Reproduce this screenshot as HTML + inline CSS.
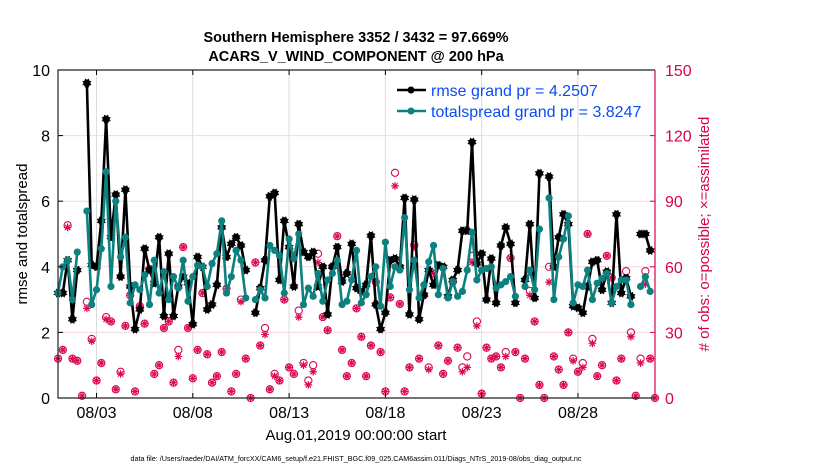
<!DOCTYPE html>
<html><head><meta charset="utf-8"><style>
body{margin:0;background:#fff;}
svg{display:block;font-family:"Liberation Sans",Arial,sans-serif;}
</style></head><body>
<svg id="chart" width="830" height="470" viewBox="0 0 830 470" xmlns="http://www.w3.org/2000/svg">
<g id="grid"></g>
<g id="obs"></g>
<g id="lines"></g>
<g id="axes"></g>
<text x="356" y="42" text-anchor="middle" font-size="14.5" font-weight="bold">Southern Hemisphere 3352 / 3432 = 97.669%</text>
<text x="356" y="61" text-anchor="middle" font-size="14.5" font-weight="bold">ACARS_V_WIND_COMPONENT @ 200 hPa</text>
<text transform="translate(27,234) rotate(-90)" text-anchor="middle" font-size="15">rmse and totalspread</text>
<text transform="translate(709,234) rotate(-90)" text-anchor="middle" font-size="15" fill="#d9024f"># of obs: o=possible; ×=assimilated</text>
<text x="356" y="440" text-anchor="middle" font-size="15">Aug.01,2019 00:00:00 start</text>
<text x="356" y="461" text-anchor="middle" font-size="7.2">data file: /Users/raeder/DAI/ATM_forcXX/CAM6_setup/f.e21.FHIST_BGC.f09_025.CAM6assim.011/Diags_NTrS_2019-08/obs_diag_output.nc</text>
<g>
<line x1="397" y1="90" x2="426" y2="90" stroke="#000" stroke-width="2.5"/>
<circle cx="411" cy="90" r="3.5" fill="#000"/>
<text x="431" y="96" font-size="16" fill="#0a4cf5">rmse grand pr = 4.2507</text>
<line x1="397" y1="111" x2="426" y2="111" stroke="#0d8080" stroke-width="2.5"/>
<circle cx="411" cy="111" r="3.5" fill="#0d8080"/>
<text x="431" y="117" font-size="16" fill="#0a4cf5">totalspread grand pr = 3.8247</text>
</g>
</svg>
<script>
const N = null;
const rmse = [3.2,3.2,4.2,2.4,3.9,N,9.6,4.05,4.0,5.4,8.5,4.9,6.2,3.7,6.35,3.4,2.1,2.7,4.55,3.9,3.5,4.9,2.5,4.4,2.5,3.4,3.7,3.5,2.25,4.3,4.0,2.7,
2.85,3.45,5.2,4.3,4.7,4.9,4.65,3.9,N,2.6,3.35,4.2,6.15,6.25,3.6,5.4,4.6,3.4,5.3,4.45,4.3,4.45,3.4,4.0,2.55,4.0,4.6,3.55,3.8,4.7,
3.35,3.25,3.45,4.95,2.85,2.1,2.6,4.2,4.25,4.0,6.1,2.55,6.05,2.4,3.15,3.9,3.45,4.05,4.0,3.1,3.6,3.9,5.1,5.1,7.8,4.1,4.4,3.0,4.25,2.9,4.65,5.2,
4.7,2.9,N,3.6,5.3,3.05,6.85,N,6.75,4.0,4.9,5.6,5.3,2.8,2.75,2.6,3.4,4.15,4.2,3.3,3.85,2.9,5.6,3.2,3.65,3.1,N,5.0,5.0,4.5];
const spread = [3.2,4.0,4.2,3.0,4.45,N,5.7,2.85,3.3,4.55,6.9,3.4,6.0,4.3,4.9,2.9,3.45,3.3,3.75,2.85,4.2,3.2,3.85,3.0,3.7,3.35,4.2,2.95,3.7,4.05,4.0,3.4,
4.1,4.4,5.4,3.2,3.7,4.5,4.2,3.05,N,3.0,3.3,3.05,4.65,4.5,4.35,3.2,4.85,4.25,5.0,2.85,3.35,3.1,3.8,2.95,3.6,3.8,4.2,2.85,2.95,3.6,
4.5,2.9,3.15,3.7,4.0,2.8,4.75,3.4,4.0,3.9,5.5,3.3,4.2,3.05,3.45,4.15,4.65,3.15,3.95,3.05,3.55,3.1,3.25,3.9,5.05,3.6,3.9,3.95,4.0,3.35,3.45,3.55,
3.7,3.1,N,3.4,3.9,3.3,5.15,N,6.1,3.0,4.3,4.85,5.55,2.9,3.45,3.4,3.9,3.0,3.5,3.65,3.8,2.9,3.4,3.6,3.6,2.85,N,3.4,3.7,3.25];
const possible = [18,22,79,18,17,1,44,27,8,16,37,35,4,12,33,47,3,42,34,59,11,15,32,35,7,22,69,32,9,22,48,20,
7,10,21,50,3,11,45,18,0,62,24,32,4,11,8,45,14,11,40,16,8,15,66,37,31,60,74,22,10,16,41,
28,10,24,53,21,3,46,103,43,3,14,70,18,47,14,57,24,11,17,53,23,14,19,65,35,2,23,18,19,14,21,
64,21,0,18,49,35,6,0,60,19,13,6,30,18,12,16,75,27,10,15,65,55,8,18,58,30,1,18,58,18,0];
const assimilated = [18,22,78,18,17,1,41,26,8,16,36,35,4,11,33,47,3,42,34,59,11,15,32,35,7,19,69,32,9,22,48,20,
7,10,21,50,3,11,44,18,0,62,24,29,4,10,8,45,14,11,37,15,6,12,62,37,31,60,74,22,10,16,41,
28,10,24,53,21,3,46,97,43,3,14,69,18,47,13,57,24,11,17,53,23,12,14,62,33,2,23,18,19,14,19,
64,21,0,18,47,35,6,0,53,19,13,6,30,17,12,14,75,25,10,15,65,55,8,18,55,28,1,16,52,18,0];
const xTickDays = [2,7,12,17,22,27];
const xTickLabels = ["08/03","08/08","08/13","08/18","08/23","08/28"];
const yTicks = [0,2,4,6,8,10];
const y2Ticks = [0,30,60,90,120,150];

const L=58,R=655,T=70,B=398, XMAX=31, STEP=0.25;
const xs = d => L + d/XMAX*(R-L);
const ys = v => B - v/10*(B-T);
const y2s = v => B - v/150*(B-T);
const NS="http://www.w3.org/2000/svg";
function mk(tag, parent, attrs){const e=document.createElementNS(NS,tag);for(const k in attrs)e.setAttribute(k,attrs[k]);parent.appendChild(e);return e;}
const grid=document.getElementById('grid'), axes=document.getElementById('axes'), obs=document.getElementById('obs'), lines=document.getElementById('lines');

yTicks.forEach(v=>{ if(v>0&&v<10){const g=mk('line',grid,{x1:L,x2:R,y1:ys(v),y2:ys(v),stroke:'#f0d8e2','stroke-width':1});

}
const t=mk('text',axes,{x:L-8,y:ys(v)+6,'text-anchor':'end','font-size':16});t.textContent=v;


mk('line',axes,{x1:L,x2:L+5,y1:ys(v),y2:ys(v),stroke:'#000'});});
y2Ticks.forEach(v=>{const t=mk('text',axes,{x:R+10,y:y2s(v)+6,'font-size':16,fill:'#d9024f'});t.textContent=v;


mk('line',axes,{x1:R-5,x2:R,y1:y2s(v),y2:y2s(v),stroke:'#d9024f'});});
xTickDays.forEach((d,i)=>{const g=mk('line',grid,{x1:xs(d),x2:xs(d),y1:T,y2:B,stroke:'#dcdcdc','stroke-width':1});


mk('line',axes,{x1:xs(d),x2:xs(d),y1:B,y2:B-5,stroke:'#000'});
mk('line',axes,{x1:xs(d),x2:xs(d),y1:T,y2:T+5,stroke:'#000'});
const t=mk('text',axes,{x:xs(d),y:B+20,'text-anchor':'middle','font-size':16});t.textContent=xTickLabels[i];

});
mk('path',axes,{d:`M${R},${T}H${L}V${B}H${R}`,fill:'none',stroke:'#222','stroke-width':1.2});
mk('line',axes,{x1:R,x2:R,y1:T,y2:B,stroke:'#d9024f','stroke-width':1.2});

const pink='#dc0a55';
function star(parent,cx,cy,r){let d='';for(let k=0;k<4;k++){const a=k*Math.PI/4;d+=`M${cx-r*Math.cos(a)},${cy-r*Math.sin(a)}L${cx+r*Math.cos(a)},${cy+r*Math.sin(a)}`;}
return mk('path',parent,{d:d,stroke:pink,'stroke-width':1.2,fill:'none'});}
possible.forEach((v,i)=>{if(v==null)return;const c=mk('circle',obs,{cx:xs(i*STEP),cy:y2s(v),r:3.6,fill:'none',stroke:pink,'stroke-width':1.1});

});
assimilated.forEach((v,i)=>{if(v==null)return;const s=star(obs,xs(i*STEP),y2s(v),3.8);

});

function series(arr,color,name,marker){let d='',pen=false;
arr.forEach((v,i)=>{if(v==null){pen=false;return;}d+=(pen?'L':'M')+xs(i*STEP)+','+ys(v);pen=true;});
const p=mk('path',lines,{d:d,fill:'none',stroke:color,'stroke-width':2.6,'stroke-linejoin':'round'});


arr.forEach((v,i)=>{if(v==null)return;const cx=xs(i*STEP),cy=ys(v);
const c=mk('circle',lines,{cx:cx,cy:cy,r:marker,fill:color});


if(name==='rmse'){let dd='';for(let k=0;k<4;k++){const a=k*Math.PI/4+Math.PI/8;dd+=`M${cx-4.6*Math.cos(a)},${cy-4.6*Math.sin(a)}L${cx+4.6*Math.cos(a)},${cy+4.6*Math.sin(a)}`;}mk('path',lines,{d:dd,stroke:color,'stroke-width':1.1});}
});}
series(rmse,'#000','rmse',3.7);
series(spread,'#0d8080','totalspread',3.6);
</script>
</body></html>
